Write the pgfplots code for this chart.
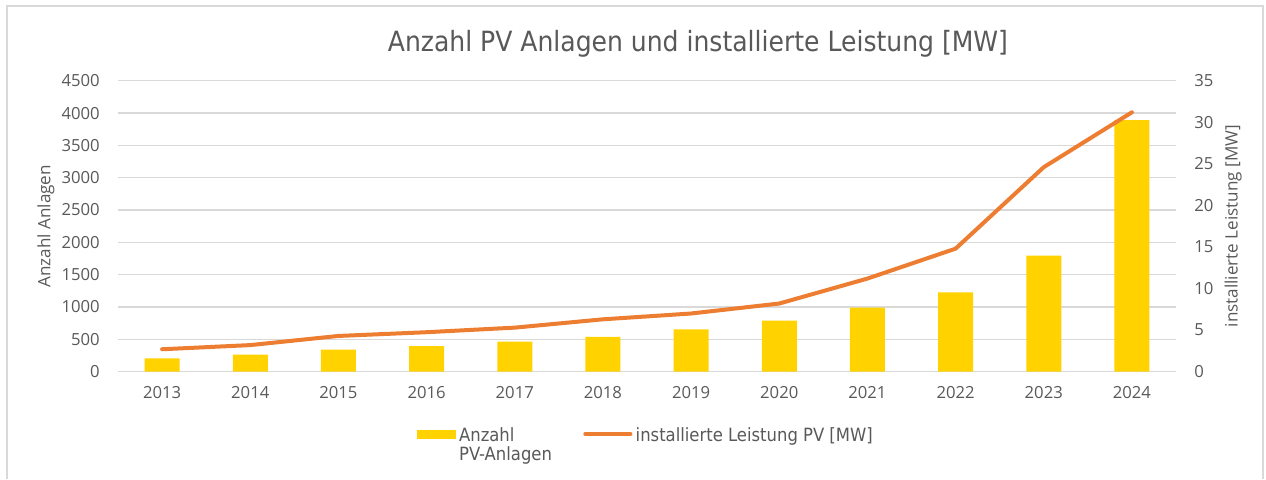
\documentclass[border=0pt]{standalone}
\usepackage{fontspec}
\usepackage{pgfplots}
\pgfplotsset{compat=1.18}
\setmainfont{Open Sans}
\newfontfamily\tahoma{DejaVu Sans Condensed}
\definecolor{bargold}{HTML}{FFD200}
\definecolor{lineorange}{HTML}{ED7D31}
\definecolor{txt}{HTML}{595959}
\definecolor{gridc}{HTML}{D9D9D9}
\begin{document}
\begin{tikzpicture}[x=0.75pt,y=0.75pt]
\useasboundingbox (0,0) rectangle (1266,479);
\draw[gridc, line width=1.2pt] (7,0) -- (7,473) -- (1263,473) -- (1263,0);
\pgfplotsset{
  common/.style={
    at={(88.5pt,80.475pt)}, anchor=south west, scale only axis,
    width=793.5pt, height=218.25pt,
    xmin=-0.5, xmax=11.5, ymin=0,
    major tick length=0pt,
    axis line style={draw=none},
    ticklabel style={font=\fontsize{12.5}{14}\selectfont, text=txt},
    label style={font=\fontsize{12.8}{14}\selectfont, text=txt},
    /pgf/number format/1000 sep={},
    /pgf/number format/assume math mode=true,
  },
}
\begin{axis}[common,
  ymax=4500, ytick distance=500,
  ymajorgrids, grid style={gridc, line width=0.9pt},
  xtick={0,1,2,3,4,5,6,7,8,9,10,11},
  xticklabels={2013,2014,2015,2016,2017,2018,2019,2020,2021,2022,2023,2024},
  xtick pos=bottom, ytick pos=left,
  xticklabel style={inner sep=0pt, anchor=north, yshift=-10.7pt},
  yticklabel style={inner sep=0pt, anchor=east, xshift=-13.5pt},
  ylabel={Anzahl Anlagen},
  ylabel style={at={(axis description cs:-0.068,0.5)}, anchor=center},
]
\addplot[ybar, bar width=26.25pt, fill=bargold, draw=none] coordinates {
(0,207) (1,263) (2,340) (3,397) (4,464) (5,537) (6,655) (7,789) (8,990) (9,1228) (10,1794) (11,3892)};
\end{axis}
\begin{axis}[common,
  ymax=35, ytick distance=5,
  xtick=\empty,
  ytick pos=right, yticklabel pos=right,
  yticklabel style={inner sep=0pt, anchor=west, xshift=13.5pt},
  ylabel={installierte Leistung [MW]},
  ylabel style={at={(axis description cs:1.054,0.5)}, anchor=center},
  legend columns=2,
  legend style={at={(axis description cs:0.2826,-0.19)}, anchor=north west,
    draw=none, fill=none, inner sep=0pt,
    font=\tahoma\fontsize{13.7}{14.25}\selectfont, text=txt,
    cells={anchor=base west},
    nodes={inner xsep=2.5pt, inner ysep=0pt},
    /tikz/every even column/.append style={column sep=21pt}},
]
\addlegendimage{legend image code/.code={\fill[bargold] (0pt,2pt) rectangle (28.5pt,8.5pt);}}
\addlegendentry{\vtop{\baselineskip=14.25pt\hbox{Anzahl}\hbox{PV-Anlagen}}}
\addplot[lineorange, line width=3pt, line cap=round, line join=round,
  legend image code/.code={\draw[lineorange, line width=2.8pt] (0pt,5.25pt) -- (34pt,5.25pt);}] coordinates {
(0,2.7) (1,3.2) (2,4.3) (3,4.75) (4,5.3) (5,6.3) (6,7.0) (7,8.2) (8,11.2) (9,14.8) (10,24.6) (11,31.2)};
\addlegendentry{installierte Leistung PV [MW]}
\end{axis}
\node[font=\tahoma\fontsize{20.9}{24}\selectfont, text=txt, anchor=base] at (698,427) {Anzahl PV Anlagen und installierte Leistung [MW]};
\end{tikzpicture}
\end{document}
